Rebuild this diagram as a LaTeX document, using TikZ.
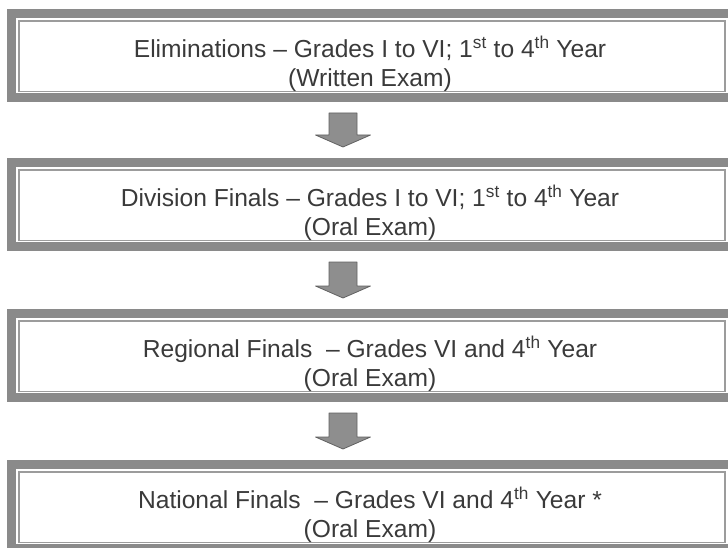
\documentclass[tikz,border=0pt]{standalone}
\usepackage{fontspec}
\setmainfont{Liberation Sans}
\usepackage{xcolor}
\usetikzlibrary{positioning,calc}

\definecolor{framegray}{HTML}{8A8A8A}
\definecolor{inkgray}{HTML}{3A3A3A}
\definecolor{arrowgray}{HTML}{8E8E8E}

\tikzset{
    stagebox/.style={
        draw=framegray,
        line width=9pt,
        minimum width=721pt,
        minimum height=84pt,
        inner sep=0pt,
        outer sep=0pt
    },
    innerline/.style={
        draw=framegray!85,
        line width=1.3pt
    },
    stagetext/.style={
        text=inkgray,
        align=center,
        font=\fontsize{24.6}{29}\selectfont
    },
    downarrow/.style={
        fill=arrowgray,
        draw=inkgray!80,
        line width=0.8pt,
        line join=round
    }
}

\begin{document}
\begin{tikzpicture}[x=1pt,y=-1pt]
    \useasboundingbox (0,0) rectangle (728,548);

    % frames
    \node[stagebox] (b1) at (372,55.5) {};
    \node[stagebox] (b2) at (372,204.5) {};
    \node[stagebox] (b3) at (372,355.5) {};
    \node[stagebox] (b4) at (372,506.5) {};

    \foreach \b in {b1,b2,b3,b4}
        \draw[innerline] ($(\b.north west)+(7.5,7.5)$) rectangle ($(\b.south east)+(-7.5,-6)$);

    % texts
    \node[stagetext] (t1) at ($(b1.center)+(-2,8)$)
        {Eliminations – Grades I to VI; 1\textsuperscript{st} to 4\textsuperscript{th} Year\\(Written Exam)};
    \node[stagetext] (t2) at ($(b2.center)+(-2,8)$)
        {Division Finals – Grades I to VI; 1\textsuperscript{st} to 4\textsuperscript{th} Year\\(Oral Exam)};
    \node[stagetext] (t3) at ($(b3.center)+(-2,8)$)
        {Regional Finals\ \ – Grades VI and 4\textsuperscript{th} Year\\(Oral Exam)};
    \node[stagetext] (t4) at ($(b4.center)+(-2,8)$)
        {National Finals\ \ – Grades VI and 4\textsuperscript{th} Year *\\(Oral Exam)};

    % block arrows
    \foreach \u/\v in {b1/b2,b2/b3,b3/b4}{
        \coordinate (top) at ($(\u.south)+(-29,15.5)$);
        \coordinate (tip) at ($(\v.north)+(-29,-15.5)$);
        \draw[downarrow] ($(top)+(-14,0)$) -- ($(top)+(14,0)$)
            -- ($(tip)+(14,-12)$) -- ($(tip)+(27.5,-12)$) -- (tip)
            -- ($(tip)+(-27.5,-12)$) -- ($(tip)+(-14,-12)$) -- cycle;
    }
\end{tikzpicture}
\end{document}
